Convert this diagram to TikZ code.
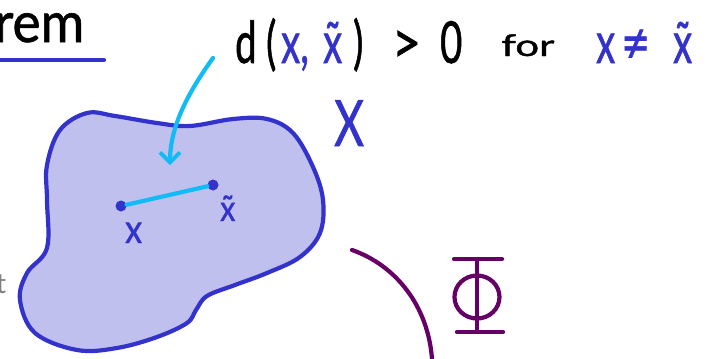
\documentclass[tikz,border=0pt]{standalone}
\usepackage{fontspec}
\setmainfont{Lato}
\newfontfamily\hand[FakeBold=1.2]{Lato}
\usetikzlibrary{arrows.meta}
\definecolor{ink}{HTML}{3333CC}
\definecolor{blobfill}{HTML}{C0C0EE}
\definecolor{sky}{HTML}{11BBF5}
\definecolor{plum}{HTML}{660066}
\begin{document}
\begin{tikzpicture}[x=1pt,y=-1pt,
  stroke/.style={line width=4.2pt,line cap=round,line join=round},
  txt/.style={inner sep=0pt,anchor=base west},
  big/.style={font=\hand\fontsize{58}{62}\selectfont,xscale=0.66},
  mid/.style={font=\hand\fontsize{30}{34}\selectfont},
  dot/.style={circle,fill=ink,inner sep=0pt,minimum size=11pt}]
\useasboundingbox (0,0) rectangle (724,359);
% title fragment
\node[txt,font=\hand\fontsize{56}{60}\selectfont,xscale=0.95] (rem) at (-6,42) {rem};
\draw[stroke,ink] (0,60) -- (104,60);
\node[txt,font=\fontsize{28}{32}\selectfont,gray] (t) at (-4,293) {t};
% blob
\draw[stroke,ink,fill=blobfill] plot[smooth cycle,tension=0.6] coordinates {
 (47,165) (60,130) (87,113) (115,116) (157,123) (190,126) (233,119) (267,119)
 (293,133) (313,167) (323,200) (320,233) (300,257) (267,273) (235,285)
 (207,296) (196,310) (187,323) (157,337) (117,348) (77,350) (35,333)
 (20,300) (27,273) (47,248) (47,200)};
% points
\node[dot] (x) at (121,206) {};
\node[dot] (xt) at (213,185) {};
\draw[stroke,sky] (x) -- (xt);
\node[txt,font=\hand\fontsize{40}{44}\selectfont,text=ink,xscale=0.85] (xl) at (125,243) {x};
\node[txt,font=\hand\fontsize{36}{40}\selectfont,text=ink,xscale=0.85] (xtl) at (220,221) {\~{x}};
% arrow
\coordinate (a0) at (213,58);
\coordinate (a1) at (170,165);
\draw[stroke,sky,-{Straight Barb[length=10pt,width=20pt,line width=3.8pt]}] (a0) .. controls (190,90) and (170,125) .. (a1);
% formula
\node[txt,big] (d) at (235,63) {d};
\node[txt,big] (lp) at (266,63) {(};
\node[txt,big,text=ink] (xc) at (281,63) {x,};
\node[txt,big,text=ink] (xt2) at (323,63) {\~{x}};
\node[txt,big] (rp) at (353,63) {)};
\node[txt,big,xscale=1.3] (gt) at (392,63) {>};
\node[txt,big] (zero) at (440,63) {0};
\node[txt,mid,xscale=1.4] (for) at (501,56) {for};
\node[txt,big,text=ink] (nx) at (596,63) {x};
\node[txt,big,text=ink,xscale=1.3] (neq) at (621,63) {≠};
\node[txt,big,text=ink] (nxt) at (673,63) {\~{x}};
\node[txt,font=\hand\fontsize{64}{68}\selectfont,text=ink,xscale=0.72] (X) at (334,146) {X};
% arc and Phi
\coordinate (c0) at (352,250);
\coordinate (c1) at (432,359);
\draw[stroke,plum] (c0) .. controls (395,265) and (428,305) .. (c1);
\coordinate (p1) at (454,259);
\coordinate (p2) at (502,259);
\coordinate (p3) at (477,259);
\coordinate (p4) at (477,332);
\coordinate (p5) at (457,332);
\coordinate (p6) at (503,332);
\draw[stroke,plum] (p1) -- (p2) (p3) -- (p4) (p5) -- (p6);
\draw[stroke,plum] (477,297) ellipse [x radius=22.5,y radius=21.5];
\end{tikzpicture}
\end{document}
